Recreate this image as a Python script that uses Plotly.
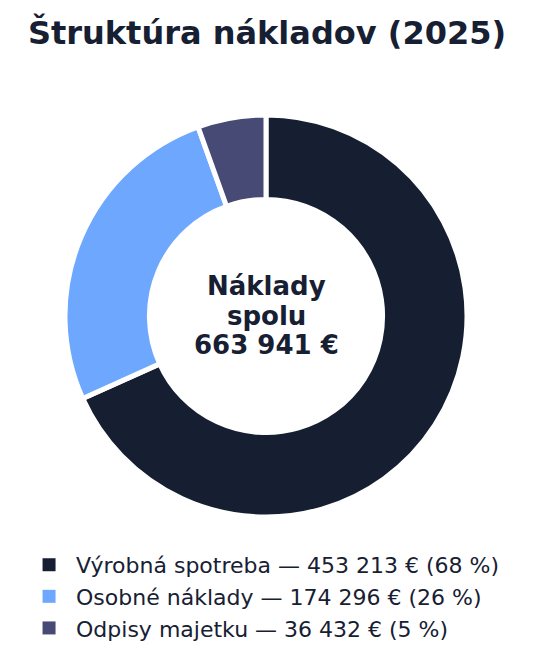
import plotly.graph_objects as go

# Data
categories = ["Výrobná spotreba", "Osobné náklady", "Odpisy majetku"]
values = [453213, 174296, 36432]
colors = ["#161f31", "#6ea8fe", "#474a75"]

total = sum(values)


def fmt(n):
    return f"{n:,}".replace(",", " ")


labels = [
    f"{c} — {fmt(v)} € ({round(v / total * 100)} %)"
    for c, v in zip(categories, values)
]

fig = go.Figure()
fig.add_trace(
    go.Pie(
        labels=labels,
        values=values,
        hole=0.58,
        sort=False,
        direction="clockwise",
        rotation=0,
        marker=dict(colors=colors, line=dict(color="white", width=5)),
        textinfo="none",
        hoverinfo="label",
        showlegend=False,
    )
)

# legend entries (pie legend squares get eaten by the white outline)
for lab, col in zip(labels, colors):
    fig.add_trace(
        go.Scatter(
            x=[None], y=[None], mode="markers", name=lab,
            marker=dict(symbol="square", size=13, color=col),
            hoverinfo="skip",
        )
    )

# centre text, one annotation per line for tighter spacing
center_lines = ["Náklady", "spolu", f"{fmt(total)} €"]
for line, shift in zip(center_lines, [30, 0, -29]):
    fig.add_annotation(
        text=f"<b>{line}</b>",
        x=0.5, y=0.5, xref="paper", yref="paper", yshift=shift,
        showarrow=False,
        font=dict(family="DejaVu Sans", size=26, color="#172033"),
    )

fig.update_layout(
    width=533,
    height=664,
    paper_bgcolor="white",
    plot_bgcolor="white",
    font=dict(family="DejaVu Sans", color="#172033"),
    title=dict(
        text="<b>Štruktúra nákladov (2025)</b>",
        x=0.486, xanchor="center", y=0.962, yanchor="middle",
        font=dict(size=32, color="#172033"),
    ),
    xaxis=dict(visible=False),
    yaxis=dict(visible=False),
    margin=dict(l=12, r=29, t=107, b=155),
    showlegend=True,
    legend=dict(
        orientation="v",
        x=0.494, xanchor="center",
        y=-0.067, yanchor="top",
        itemwidth=44,
        font=dict(size=22, color="#172033"),
    ),
)

fig.write_html("out.html")
